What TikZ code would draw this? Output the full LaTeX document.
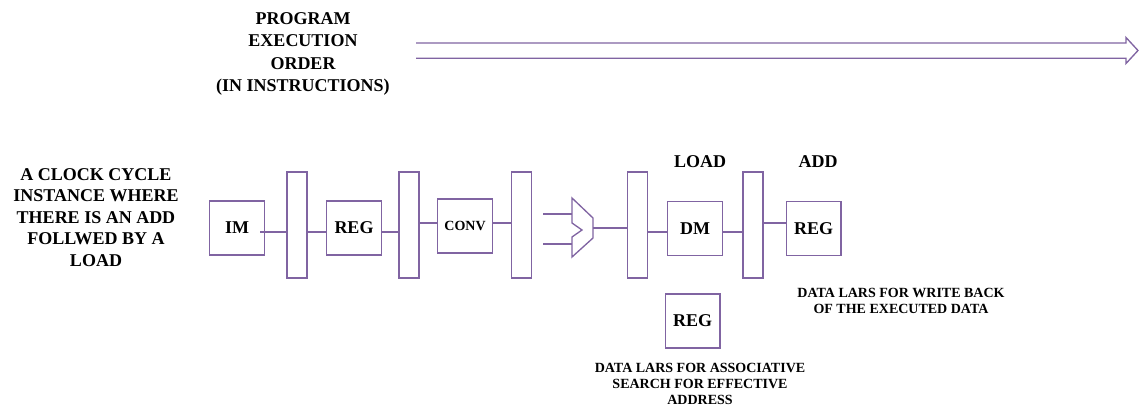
\documentclass[tikz,border=0pt]{standalone}
\usepackage{fontspec}
\setmainfont{Liberation Serif}
\definecolor{linec}{RGB}{128,100,162}
\begin{document}
\begin{tikzpicture}[x=0.75pt,y=-0.75pt,
  wire/.style={draw=linec, line width=1pt},
  unit/.style={draw=linec, line width=1pt, minimum width=41pt, minimum height=40.5pt,
    inner sep=0pt, font=\fontsize{13.5}{16}\selectfont\bfseries},
  latch/.style={draw=linec, line width=1pt, minimum width=15pt, minimum height=79.5pt, inner sep=0pt},
  heading/.style={font=\fontsize{13.5}{16.9}\selectfont\bfseries, align=center, inner sep=0pt},
  note/.style={font=\fontsize{10.5}{12}\selectfont\bfseries, align=center, inner sep=0pt}]
\useasboundingbox (0,0) rectangle (1139,407);

% program order arrow (outlined block arrow)
\draw[wire, line join=miter] (416,43) -- (1126,43) -- (1126,37.5) -- (1138,50.5)
  -- (1126,63.5) -- (1126,58.3) -- (416,58.3);

% texts
\node[heading] (order) at (303,54) {PROGRAM\\EXECUTION\\ORDER\\(IN INSTRUCTIONS)};
\node[heading, font=\fontsize{13.5}{16.2}\selectfont\bfseries] (cycle) at (96,217.5)
  {A CLOCK CYCLE\\INSTANCE WHERE\\THERE IS AN ADD\\FOLLWED BY A\\LOAD};
\node[heading] (load) at (700,162) {LOAD};
\node[heading] (add) at (818,162) {ADD};
\node[note] (wb) at (901,301) {DATA LARS FOR WRITE BACK\\OF THE EXECUTED DATA};
\node[note] (assoc) at (700,384) {DATA LARS FOR ASSOCIATIVE\\SEARCH FOR EFFECTIVE\\ADDRESS};

% pipeline stages and latches
\node[unit] (im) at (237,228) {IM};
\node[latch] (p1) at (297,225) {};
\node[unit] (reg1) at (354,228) {REG};
\node[latch] (p2) at (409,225) {};
\node[unit, font=\fontsize{10.5}{12}\selectfont\bfseries] (conv) at (465,226) {CONV};
\node[latch] (p3) at (521.5,225) {};
\node[latch] (p4) at (637.5,225) {};
\node[unit] (dm) at (695,228.5) {DM};
\node[latch] (p5) at (753,225) {};
\node[unit] (reg2) at (813.5,228.5) {REG};
\node[unit] (reg3) at (692.5,321) {REG};

% ALU
\draw[wire, line join=miter] (572,198) -- (593,218) -- (593,238) -- (572,257)
  -- (572,237) -- (582,230) -- (572,223) -- cycle;
\coordinate (alua) at (572,214);
\coordinate (alub) at (572,244);
\coordinate (aluo) at (593,228);
\coordinate (in1) at (543,214);
\coordinate (in2) at (543,244);

% wires
\coordinate (yA) at (0,232);
\coordinate (yB) at (0,223);
\draw[wire] ([xshift=-3.75pt]im.east |- yA) -- (p1.west |- yA);
\draw[wire] (p1.east |- yA) -- (reg1.west |- yA);
\draw[wire] (reg1.east |- yA) -- (p2.west |- yA);
\draw[wire] (p2.east |- yB) -- (conv.west |- yB);
\draw[wire] (conv.east |- yB) -- (p3.west |- yB);
\draw[wire] (in1) -- (alua);
\draw[wire] (in2) -- (alub);
\draw[wire] (aluo) -- (p4.west |- aluo);
\draw[wire] (p4.east |- yA) -- (dm.west |- yA);
\draw[wire] (dm.east |- yA) -- (p5.west |- yA);
\draw[wire] (p5.east |- yB) -- (reg2.west |- yB);
\end{tikzpicture}
\end{document}
